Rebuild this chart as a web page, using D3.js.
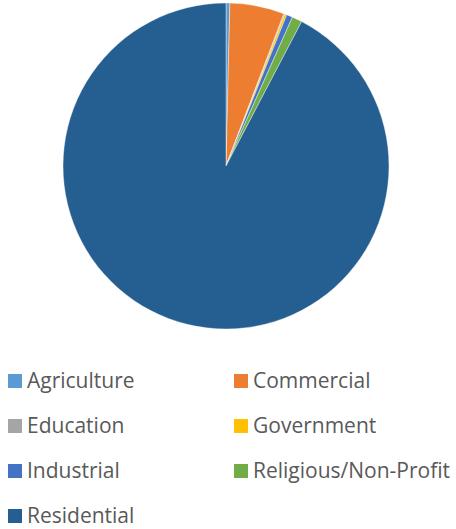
<!DOCTYPE html>
<html><head><meta charset="utf-8">
<script src="https://cdn.jsdelivr.net/npm/d3@7"></script>
<style>body{margin:0;background:#fff}svg{display:block}</style>
</head><body>
<script>
const categories = ["Agriculture","Commercial","Education","Government","Industrial","Religious/Non-Profit","Residential"];
const values = [0.38, 5.4, 0.1, 0.2, 0.6, 1.0, 92.3];
const colors = ["#5B9BD5","#ED7D31","#A5A5A5","#FFC000","#4472C4","#70AD47","#255E91"];

const W = 456, H = 529;
const svg = d3.select("body").append("svg").attr("width", W).attr("height", H);
const cx = 226, cy = 166, r = 163;
const color = d3.scaleOrdinal().domain(categories).range(colors);
const pie = d3.pie().sort(null).value(d => d.v);
const arc = d3.arc().innerRadius(0).outerRadius(r);
const data = categories.map((c, i) => ({c, v: values[i]}));
svg.append("g").attr("transform", `translate(${cx},${cy})`)
  .selectAll("path").data(pie(data)).join("path")
  .attr("d", arc).attr("fill", d => color(d.data.c))
  .attr("stroke", "#fff").attr("stroke-width", 0.4);

const lg = svg.append("g");
const colX = [8, 234], rowY0 = 381, rowH = 45;
const items = lg.selectAll("g").data(categories).join("g")
  .attr("transform", (d, i) => `translate(${colX[i % 2]},${rowY0 + Math.floor(i / 2) * rowH})`);
items.append("rect").attr("x", 0).attr("y", -7).attr("width", 14).attr("height", 14).attr("fill", d => color(d));
items.append("text").attr("x", 19).attr("y", 0).attr("dy", "0.35em")
  .attr("font-family", "Open Sans, sans-serif").attr("font-size", 21).attr("fill", "#595959")
  .text(d => d);
</script>
</body></html>
